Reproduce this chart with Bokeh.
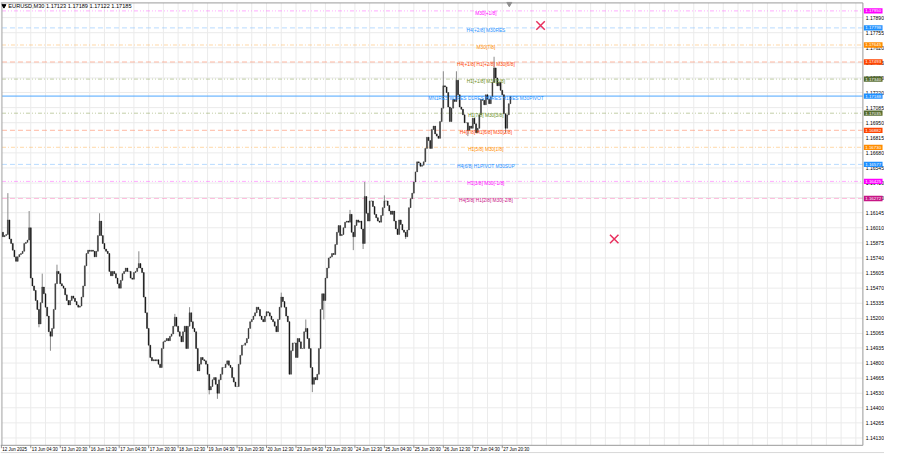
from bokeh.plotting import figure
from bokeh.models import Range1d
from bokeh.core.properties import value
from bokeh.embed import file_html
from bokeh.resources import INLINE

# ---------------- data ----------------
header_text = "EURUSD,M30  1.17123 1.17189 1.17122 1.17185"

open_first = 1.1597
close = [
    1.1593, 1.1594, 1.1595, 1.1608, 1.1591, 1.1587, 1.1581, 1.1575, 1.1571, 1.1575,
    1.1577, 1.1578, 1.1580, 1.1587, 1.1588, 1.1590, 1.1601, 1.1556, 1.1549, 1.1545,
    1.1536, 1.1528, 1.1515, 1.1534, 1.1548, 1.1542, 1.1530, 1.1522, 1.1508, 1.1504,
    1.1511, 1.1528, 1.1551, 1.1562, 1.1560, 1.1551, 1.1549, 1.1547, 1.1541, 1.1536,
    1.1532, 1.1536, 1.1540, 1.1538, 1.1535, 1.1532, 1.1530, 1.1531, 1.1539, 1.1549,
    1.1567, 1.1578, 1.1581, 1.1580, 1.1581, 1.1580, 1.1575, 1.1580, 1.1594, 1.1607,
    1.1594, 1.1587, 1.1582, 1.1580, 1.1578, 1.1562, 1.1558, 1.1562, 1.1560, 1.1556,
    1.1551, 1.1547, 1.1554, 1.1560, 1.1562, 1.1565, 1.1562, 1.1562, 1.1556, 1.1555,
    1.1561, 1.1562, 1.1565, 1.1569, 1.1565, 1.1561, 1.1539, 1.1525, 1.1511, 1.1496,
    1.1485, 1.1482, 1.1483, 1.1482, 1.1483, 1.1479, 1.1476, 1.1493, 1.1499, 1.1500,
    1.1502, 1.1500, 1.1504, 1.1506, 1.1513, 1.1521, 1.1513, 1.1508, 1.1504, 1.1499,
    1.1508, 1.1513, 1.1493, 1.1513, 1.1525, 1.1517, 1.1511, 1.1508, 1.1493, 1.1473,
    1.1479, 1.1485, 1.1483, 1.1482, 1.1479, 1.1470, 1.1456, 1.1459, 1.1465, 1.1467,
    1.1461, 1.1453, 1.1465, 1.1470, 1.1476, 1.1476, 1.1479, 1.1482, 1.1478, 1.1476,
    1.1467, 1.1463, 1.1459, 1.1459, 1.1479, 1.1487, 1.1496, 1.1496, 1.1498, 1.1502,
    1.1511, 1.1517, 1.1519, 1.1522, 1.1525, 1.1530, 1.1528, 1.1522, 1.1519, 1.1517,
    1.1522, 1.1526, 1.1525, 1.1522, 1.1519, 1.1517, 1.1513, 1.1508, 1.1519, 1.1530,
    1.1539, 1.1535, 1.1530, 1.1522, 1.1517, 1.1470, 1.1491, 1.1498, 1.1498, 1.1485,
    1.1502, 1.1499, 1.1493, 1.1493, 1.1508, 1.1511, 1.1502, 1.1493, 1.1476, 1.1461,
    1.1467, 1.1465, 1.1470, 1.1493, 1.1528, 1.1542, 1.1536, 1.1556, 1.1565, 1.1574,
    1.1575, 1.1578, 1.1577, 1.1586, 1.1597, 1.1603, 1.1594, 1.1595, 1.1601, 1.1606,
    1.1607, 1.1606, 1.1613, 1.1597, 1.1593, 1.1603, 1.1608, 1.1606, 1.1607, 1.1600,
    1.1587, 1.1629, 1.1614, 1.1607, 1.1625, 1.1625, 1.1620, 1.1613, 1.1610, 1.1607,
    1.1606, 1.1612, 1.1619, 1.1625, 1.1625, 1.1621, 1.1616, 1.1613, 1.1616, 1.1607,
    1.1600, 1.1595, 1.1608, 1.1604, 1.1599, 1.1597, 1.1593, 1.1599, 1.1619, 1.1627,
    1.1632, 1.1642, 1.1651, 1.1660, 1.1659, 1.1656, 1.1657, 1.1660, 1.1672, 1.1682,
    1.1679, 1.1672, 1.1689, 1.1692, 1.1685, 1.1683, 1.1681, 1.1696, 1.1708, 1.1728,
    1.1727, 1.1722, 1.1709, 1.1696, 1.1708, 1.1716, 1.1714, 1.1733, 1.1720, 1.1709,
    1.1707, 1.1702, 1.1695, 1.1695, 1.1688, 1.1692, 1.1690, 1.1699, 1.1694, 1.1686,
    1.1690, 1.1702, 1.1716, 1.1715, 1.1711, 1.1720, 1.1716, 1.1712, 1.1718, 1.1731,
    1.1744, 1.1735, 1.1728, 1.1731, 1.1724, 1.1720, 1.1703, 1.1690, 1.1702, 1.1712,
    1.17185,
]

spike_hi_idx = [4, 17, 25, 34, 60, 84, 106, 115, 171, 186, 213, 222, 234, 270, 278, 301, 311]
spike_hi_val = [1.1632, 1.1616, 1.1560, 1.1568, 1.1614, 1.1580, 1.1524, 1.1530, 1.1543,
                1.1519, 1.1617, 1.1642, 1.1630, 1.1741, 1.1741, 1.1754, 1.17189]
spike_lo_idx = [23, 30, 127, 132, 190, 197, 215, 221, 247, 285, 308]
spike_lo_val = [1.1512, 1.1491, 1.1452, 1.1448, 1.1454, 1.1519, 1.1581, 1.1582, 1.1591,
                1.1683, 1.1686]

date_labels = ["12 Jun 2025", "13 Jun 04:30", "13 Jun 20:30", "16 Jun 12:30", "17 Jun 04:30",
               "17 Jun 20:30", "18 Jun 12:30", "19 Jun 04:30", "19 Jun 20:30", "20 Jun 12:30",
               "23 Jun 04:30", "23 Jun 20:30", "24 Jun 12:30", "25 Jun 04:30", "25 Jun 20:30",
               "26 Jun 12:30", "27 Jun 04:30", "27 Jun 20:30"]

price_ticks = [1.17890, 1.17755, 1.17620, 1.17485, 1.17350, 1.17220, 1.17085, 1.16950,
               1.16815, 1.16680, 1.16545, 1.16410, 1.16280, 1.16145, 1.16010, 1.15875,
               1.15740, 1.15605, 1.15470, 1.15335, 1.15200, 1.15065, 1.14935, 1.14800,
               1.14665, 1.14530, 1.14400, 1.14265, 1.14130]

level_prices = [1.17950, 1.17798, 1.17645, 1.17493, 1.17340, 1.17188,
                1.17035, 1.16882, 1.16730, 1.16577, 1.16425, 1.16272]
level_names = ["M30[+1/8]", "H4[+2/8] M30RES", "M30[7/8]", "H4[+1/8] H1[+2/8] M30[6/8]",
               "H1[+1/8] M30[5/8]", "MN1RES W1RES D1RES H4RES H1RES M30PIVOT",
               "H1[7/8] M30[3/8]", "H4[7/8] H1[6/8] M30[2/8]", "H1[5/8] M30[1/8]",
               "H4[6/8] H1PIVOT M30SUP", "H1[3/8] M30[-1/8]", "H4[5/8] H1[2/8] M30[-2/8]"]
level_box_colors = ["#FF00FF", "#1E90FF", "#FF8C00", "#FF4500", "#556B2F", "#1E90FF",
                    "#556B2F", "#FF4500", "#FF8C00", "#1E90FF", "#FF00FF", "#C71585"]
level_text_colors = ["#FF00FF", "#1E90FF", "#FF8C00", "#FF4500", "#6B8E23", "#1E90FF",
                     "#6B8E23", "#FF4500", "#FF8C00", "#1E90FF", "#FF00FF", "#C71585"]
level_line_colors = ["#FF66FF", "#7FBFFF", "#FFB860", "#FF8A66", "#9AAE6A", "#4DA6FF",
                     "#9AAE6A", "#FF8A66", "#FFB860", "#7FBFFF", "#FF66FF", "#FF7FC0"]
level_dashes = ["4 2 1 2 1 2", "5 3", "4 2 1 2", "5 3", "4 2 1 2 1 2", "solid",
                "4 2 1 2 1 2", "5 3", "4 2 1 2", "5 3", "4 2 1 2 1 2", "5 3"]
level_alpha = [0.55, 0.55, 0.55, 0.6, 0.6, 1.0, 0.6, 0.6, 0.55, 0.55, 0.55, 0.5]

cross_pos = [329.4, 374.4]
cross_price = [1.1782, 1.1591]

# ---------------- derived candle arrays ----------------
n = len(close)
xs = list(range(1, n + 1))
opens = [open_first] + close[:-1]
hi_map = dict(zip(spike_hi_idx, spike_hi_val))
lo_map = dict(zip(spike_lo_idx, spike_lo_val))
highs, lows, tops, bots, cols = [], [], [], [], []
for i, (o, c) in enumerate(zip(opens, close)):
    k = i + 1
    t, b = max(o, c), min(o, c)
    highs.append(max(t, hi_map.get(k, t)))
    lows.append(min(b, lo_map.get(k, b)))
    tops.append(t)
    bots.append(b)
    cols.append("#3a3a3a" if c >= o else "#151515")

# ---------------- layout (the frame covers the whole canvas) ----------------
KPX = 0.6            # candle-index units per reference pixel
PPX = 0.0000864      # price units per reference pixel
X0 = -0.5
X1 = X0 + 900 * KPX
YT = 1.18043
YB = YT - 470 * PPX


def rx(px):
    return X0 + px * KPX


def ry(py):
    return YT - py * PPX


CL, CR, CT, CB = rx(1.5), rx(878), ry(2.5), ry(460.5)
FONT = value("Liberation Sans")

p = figure(width=884, height=454, output_backend="svg", toolbar_location=None,
           x_range=Range1d(X0, X1), y_range=Range1d(YB, YT),
           min_border=0, min_border_left=0, min_border_right=0,
           min_border_top=0, min_border_bottom=0)
p.axis.visible = False
p.grid.visible = False
p.outline_line_color = None
p.background_fill_color = "white"
p.border_fill_color = "white"

# grid
vg = [9 * m for m in range(0, 60) if 9 * m < CR]
p.segment(x0=vg, y0=[CB] * len(vg), x1=vg, y1=[CT] * len(vg), line_color="#ebebeb", line_width=1)
p.segment(x0=[CL] * len(price_ticks), y0=price_ticks, x1=[CR] * len(price_ticks), y1=price_ticks,
          line_color="#ebebeb", line_width=1)

# level lines
for pr, lc, dsh, a in zip(level_prices, level_line_colors, level_dashes, level_alpha):
    p.segment(x0=[CL], y0=[pr], x1=[CR], y1=[pr], line_color=lc, line_alpha=a,
              line_width=1, line_dash=dsh)

# frame borders
p.segment(x0=[rx(0), CL, CR, rx(0), rx(0)], y0=[CT, CB, CB, CB, ry(468)],
          x1=[CR, CL, CR, CR, X1], y1=[CT, CT, CT, CB, ry(468)],
          line_color=["#9a9a9a", "#a8a8a8", "#9a9a9a", "#9a9a9a", "#d8d8d8"], line_width=1)

# candles
p.segment(x0=xs, y0=lows, x1=xs, y1=highs, line_color="#8a8a8a", line_width=1)
p.vbar(x=xs, width=0.6, top=tops, bottom=bots, fill_color=cols, line_color=cols,
       line_width=0.4)

# level texts
p.text(x=[296] * len(level_prices), y=level_prices, text=level_names,
       text_color=level_text_colors, text_align="center", text_baseline="top",
       text_font_size="4.8px", text_font=FONT)

# crosses
p.scatter(x=cross_pos, y=cross_price, marker="x", size=12, line_color="#E8305E",
          line_width=1.5)

# header and chart-shift marker
p.scatter(x=[rx(3.5)], y=[ry(5.5)], marker="inverted_triangle", size=4, color="#000000")
p.text(x=[rx(8)], y=[ry(5.5)], text=[header_text], text_font_size="5.6px", text_font=FONT,
       text_color="#000000", text_baseline="middle", text_align="left")
p.scatter(x=[rx(518)], y=[ry(3.5)], marker="inverted_triangle", size=5, color="#909090")

# price axis labels
p.text(x=[rx(881)] * len(price_ticks), y=price_ticks, text=[f"{t:.5f}" for t in price_ticks],
       text_font_size="5px", text_font=FONT, text_color="#000000",
       text_baseline="middle", text_align="left")

# time axis
tick_pos = [18 * m for m in range(len(date_labels))]
p.segment(x0=tick_pos, y0=[CB] * len(tick_pos), x1=tick_pos, y1=[ry(463.5)] * len(tick_pos),
          line_color="#8a8a8a", line_width=1)
p.text(x=[t + 0.6 for t in tick_pos], y=[ry(464.5)] * len(tick_pos), text=date_labels,
       text_font_size="4.5px", text_font=FONT, text_color="#000000",
       text_baseline="middle", text_align="left")

# price boxes at the right
nb = len(level_prices)
p.rect(x=[rx(888.5)] * nb, y=level_prices, width=19 * KPX, height=5.5 * PPX,
       fill_color=level_box_colors, line_color=None)
p.text(x=[rx(888.5)] * nb, y=level_prices, text=[f"{v:.5f}" for v in level_prices],
       text_font_size="4.4px", text_font=FONT, text_color="white",
       text_baseline="middle", text_align="center")

open("out.html", "w").write(file_html(p, INLINE))
